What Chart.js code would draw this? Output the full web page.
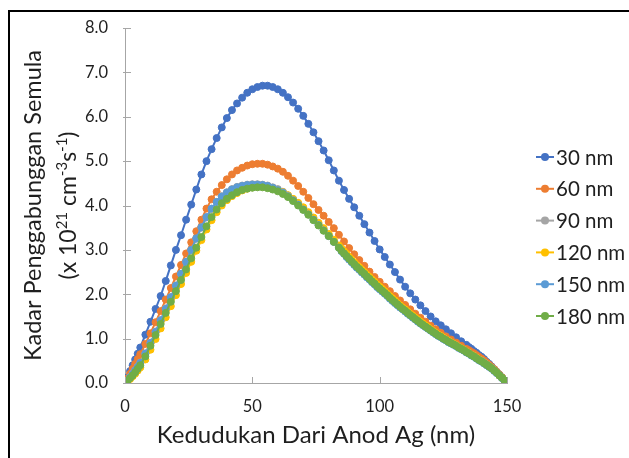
<!DOCTYPE html>
<html>
<head>
<meta charset="utf-8">
<script src="https://cdn.jsdelivr.net/npm/chart.js@4"></script>
<style>
  html, body { margin: 0; padding: 0; background: #fff; }
  canvas { display: block; }
</style>
</head>
<body>
<canvas id="c" width="629" height="458"></canvas>
<script>
// Position grid (nm) for the 30 nm and 60 nm runs
const xMain = [0,1,2,3,4,5,6,8,10,12,14,16,18,20,22,24,26,28,30,32,34,36,38,40,42,44,46,48,50,52,54,56,58,60,62,64,66,68,70,72,74,76,78,80,82,84,86,88,90,92,94,96,98,100,102,104,106,108,110,112,114,116,118,120,122,124,126,128,130,132,134,135,136,137,138,139,140,141,142,143,144,145,146,147,148,149,150];

// Position grid (nm) for the 90-180 nm runs (finer towards the cathode side)
const xFine = [0,1,2,3,4,5,6,8,10,12,14,16,18,20,22,24,26,28,30,32,34,36,38,40,42,44,46,48,50,52,54,56,58,60,62,64,66,68,70,72,74,76,78,80,82,84,85,86,87,88,89,90,91,92,93,94,95,96,97,98,99,100,101,102,103,104,105,106,107,108,109,110,111,112,113,114,115,116,117,118,119,120,121,122,123,124,125,126,127,128,129,130,131,132,133,134,135,136,137,138,139,140,141,142,143,144,145,146,147,148,149,150];

// Initial recombination rate (x 10^21 cm^-3 s^-1)
const y30 = [0,0.13,0.27,0.40,0.53,0.66,0.80,1.09,1.38,1.67,1.96,2.30,2.65,3.00,3.33,3.68,4.02,4.36,4.70,5.00,5.27,5.52,5.76,5.97,6.15,6.30,6.43,6.54,6.62,6.67,6.70,6.70,6.67,6.62,6.54,6.44,6.32,6.18,6.02,5.84,5.65,5.45,5.24,5.02,4.79,4.56,4.35,4.15,3.96,3.77,3.58,3.39,3.20,3.01,2.84,2.67,2.50,2.33,2.17,2.02,1.88,1.75,1.62,1.50,1.39,1.30,1.21,1.12,1.03,0.94,0.86,0.81,0.77,0.72,0.68,0.63,0.59,0.54,0.48,0.43,0.37,0.31,0.25,0.19,0.13,0.06,0];

const y60 = [0,0.10,0.21,0.32,0.43,0.54,0.65,0.88,1.12,1.37,1.62,1.88,2.14,2.40,2.66,2.92,3.17,3.42,3.68,3.93,4.14,4.31,4.46,4.59,4.70,4.79,4.85,4.90,4.93,4.94,4.94,4.92,4.88,4.83,4.76,4.67,4.56,4.44,4.31,4.17,4.03,3.90,3.77,3.63,3.49,3.34,3.19,3.04,2.90,2.77,2.64,2.51,2.39,2.28,2.17,2.07,1.96,1.86,1.76,1.66,1.56,1.47,1.38,1.29,1.21,1.13,1.05,0.98,0.91,0.84,0.77,0.74,0.70,0.67,0.63,0.59,0.55,0.51,0.46,0.41,0.36,0.31,0.25,0.19,0.13,0.06,0];

const y90 = [0,0.06,0.13,0.21,0.29,0.37,0.46,0.67,0.91,1.16,1.42,1.68,1.94,2.20,2.46,2.73,2.99,3.25,3.50,3.73,3.92,4.08,4.21,4.30,4.37,4.42,4.45,4.47,4.48,4.48,4.47,4.45,4.41,4.37,4.31,4.23,4.14,4.04,3.93,3.82,3.70,3.58,3.46,3.33,3.20,3.07,
  3.00,2.94,2.87,2.81,2.75,2.69,2.63,2.58,2.52,2.47,2.41,2.36,2.30,2.25,2.19,2.14,2.09,2.04,1.99,1.93,1.88,1.83,1.78,1.73,1.68,1.64,1.59,1.54,1.50,1.45,1.41,1.36,1.32,1.28,1.24,1.20,1.16,1.12,1.08,1.05,1.01,0.98,0.94,0.91,0.88,0.85,0.81,0.78,0.75,0.71,0.68,0.64,0.61,0.57,0.53,0.50,0.46,0.42,0.38,0.34,0.29,0.24,0.18,0.12,0.06,0];

const y120 = [0,0.04,0.09,0.15,0.21,0.28,0.35,0.53,0.75,0.99,1.23,1.48,1.73,1.98,2.23,2.48,2.73,2.98,3.22,3.46,3.67,3.85,4.00,4.12,4.21,4.28,4.34,4.38,4.41,4.43,4.43,4.42,4.39,4.35,4.30,4.23,4.15,4.06,3.96,3.85,3.73,3.61,3.49,3.36,3.23,3.10,
  3.03,2.97,2.91,2.84,2.78,2.72,2.66,2.61,2.55,2.50,2.44,2.39,2.33,2.28,2.22,2.17,2.12,2.07,2.01,1.96,1.91,1.86,1.80,1.75,1.70,1.66,1.61,1.56,1.52,1.47,1.43,1.38,1.34,1.30,1.26,1.21,1.17,1.13,1.09,1.06,1.02,0.98,0.95,0.91,0.88,0.85,0.81,0.78,0.75,0.71,0.68,0.64,0.61,0.57,0.53,0.49,0.45,0.41,0.37,0.33,0.28,0.23,0.17,0.12,0.06,0];

const y150 = [0,0.06,0.13,0.20,0.28,0.36,0.45,0.66,0.90,1.15,1.41,1.67,1.93,2.19,2.46,2.73,3.00,3.26,3.51,3.74,3.93,4.08,4.20,4.29,4.36,4.41,4.44,4.46,4.47,4.47,4.46,4.44,4.40,4.35,4.29,4.21,4.12,4.02,3.91,3.80,3.68,3.56,3.44,3.31,3.18,3.05,
  2.97,2.91,2.84,2.78,2.72,2.66,2.60,2.55,2.49,2.44,2.38,2.33,2.27,2.22,2.16,2.11,2.06,2.01,1.96,1.90,1.85,1.80,1.75,1.70,1.66,1.61,1.56,1.52,1.47,1.43,1.38,1.34,1.30,1.26,1.22,1.18,1.14,1.10,1.06,1.03,0.99,0.96,0.92,0.89,0.86,0.83,0.79,0.76,0.73,0.69,0.66,0.62,0.59,0.55,0.51,0.48,0.44,0.40,0.36,0.32,0.27,0.22,0.17,0.11,0.06,0];

const y180 = [0,0.05,0.11,0.17,0.24,0.32,0.40,0.60,0.84,1.08,1.33,1.58,1.83,2.07,2.32,2.56,2.81,3.05,3.29,3.53,3.74,3.91,4.05,4.15,4.23,4.30,4.35,4.38,4.40,4.41,4.41,4.39,4.36,4.32,4.26,4.19,4.10,4.00,3.90,3.79,3.67,3.55,3.43,3.31,3.18,3.05,
  2.98,2.92,2.86,2.80,2.74,2.68,2.62,2.57,2.51,2.46,2.40,2.35,2.29,2.24,2.18,2.13,2.08,2.03,1.98,1.92,1.87,1.82,1.77,1.72,1.67,1.63,1.58,1.53,1.49,1.44,1.40,1.35,1.31,1.27,1.23,1.19,1.15,1.11,1.07,1.04,1.00,0.97,0.93,0.90,0.87,0.84,0.80,0.77,0.74,0.70,0.67,0.63,0.60,0.56,0.52,0.49,0.45,0.41,0.37,0.33,0.28,0.23,0.17,0.12,0.06,0];

const seriesNames = ['30 nm', '60 nm', '90 nm', '120 nm', '150 nm', '180 nm'];
const seriesColors = ['#4472C4', '#ED7D31', '#A5A5A5', '#FFC000', '#5B9BD5', '#70AD47'];
const seriesX = [xMain, xMain, xFine, xFine, xFine, xFine];
const seriesY = [y30, y60, y90, y120, y150, y180];

const yTicks = [0, 1, 2, 3, 4, 5, 6, 7, 8];
const xTicks = [0, 50, 100, 150];

const FONT = 'Lato, "Open Sans", sans-serif';
const TEXT = '#1f1f1f';
const AXIS = '#a6a6a6';

const datasets = seriesNames.map((name, i) => ({
  label: name,
  data: seriesX[i].map((x, k) => ({ x: x, y: seriesY[i][k] })),
  showLine: true,
  borderColor: seriesColors[i],
  backgroundColor: seriesColors[i],
  borderWidth: 2,
  pointRadius: 3.5,
  pointBorderWidth: 1,
  pointBorderColor: seriesColors[i],
  pointBackgroundColor: seriesColors[i],
  tension: 0,
  // later series sit on top of earlier ones
  order: seriesNames.length - i
}));

const decorations = {
  id: 'decorations',
  beforeDraw(chart) {
    const c = chart.ctx;
    c.save();
    c.fillStyle = '#fff';
    c.fillRect(0, 0, chart.width, chart.height);
    c.restore();
  },
  afterDraw(chart) {
    const c = chart.ctx;
    const xs = chart.scales.x, ys = chart.scales.y;
    const area = chart.chartArea;
    c.save();

    // outer frame
    c.fillStyle = '#000';
    c.fillRect(8, 10, 2, chart.height - 10);
    c.fillRect(8, 10, chart.width - 8, 2);

    // inside tick marks
    c.strokeStyle = AXIS;
    c.lineWidth = 1;
    c.beginPath();
    yTicks.forEach(v => {
      const py = Math.round(ys.getPixelForValue(v)) + 0.5;
      c.moveTo(area.left - 2, py);
      c.lineTo(area.left + 6, py);
    });
    xTicks.forEach(v => {
      const px = Math.round(xs.getPixelForValue(v)) + 0.5;
      c.moveTo(px, area.bottom);
      c.lineTo(px, area.bottom - 6);
    });
    c.stroke();

    // y axis title, two lines with superscripts on the second
    const cy = (area.top + area.bottom) / 2;
    c.fillStyle = TEXT;
    c.textBaseline = 'alphabetic';
    c.save();
    c.translate(41, cy);
    c.rotate(-Math.PI / 2);
    c.font = '23.5px ' + FONT;
    c.textAlign = 'center';
    c.fillText('Kadar Penggabunggan Semula', 0, 0);
    c.restore();

    const parts = [
      ['(x 10', false], ['21', true], [' cm', false], ['-3', true],
      ['s', false], ['-1', true], [')', false]
    ];
    const normal = '23px ' + FONT, small = '15px ' + FONT;
    let total = 0;
    parts.forEach(p => { c.font = p[1] ? small : normal; total += c.measureText(p[0]).width; });
    c.save();
    c.translate(76, cy);
    c.rotate(-Math.PI / 2);
    c.textAlign = 'left';
    let pos = -total / 2;
    parts.forEach(p => {
      c.font = p[1] ? small : normal;
      c.fillText(p[0], pos, p[1] ? -9 : 0);
      pos += c.measureText(p[0]).width;
    });
    c.restore();

    // legend
    c.font = '20.5px ' + FONT;
    c.textAlign = 'left';
    c.textBaseline = 'middle';
    seriesNames.forEach((name, i) => {
      const ly = 157 + 31.8 * i;
      c.strokeStyle = seriesColors[i];
      c.lineWidth = 2;
      c.beginPath();
      c.moveTo(536, ly);
      c.lineTo(554, ly);
      c.stroke();
      c.fillStyle = seriesColors[i];
      c.beginPath();
      c.arc(545, ly, 4, 0, Math.PI * 2);
      c.fill();
      c.fillStyle = TEXT;
      c.fillText(name, 556, ly + 1);
    });
    c.restore();
  }
};

new Chart(document.getElementById('c'), {
  type: 'scatter',
  data: { datasets: datasets },
  options: {
    responsive: false,
    animation: false,
    events: [],
    layout: { padding: { top: 28, right: 122, left: 0, bottom: 0 } },
    scales: {
      x: {
        type: 'linear',
        min: 0,
        max: 150,
        afterBuildTicks(s) { s.ticks = xTicks.map(v => ({ value: v })); },
        ticks: { font: { family: FONT, size: 16.5 }, color: TEXT, padding: 14, maxRotation: 0 },
        grid: { display: false, drawTicks: false },
        border: { display: true, color: AXIS, width: 1 },
        title: {
          display: true,
          text: 'Kedudukan Dari Anod Ag (nm)',
          color: TEXT,
          font: { family: FONT, size: 24 },
          padding: { top: 0, bottom: 8 }
        },
        afterFit(s) { s.height = 75; }
      },
      y: {
        type: 'linear',
        min: 0,
        max: 8,
        afterBuildTicks(s) { s.ticks = yTicks.map(v => ({ value: v })); },
        ticks: {
          font: { family: FONT, size: 16.5 },
          color: TEXT,
          padding: 17,
          callback: v => Number(v).toFixed(1)
        },
        grid: { display: false, drawTicks: false },
        border: { display: true, color: AXIS, width: 1 },
        afterFit(s) { s.width = 125; }
      }
    },
    plugins: {
      legend: { display: false },
      tooltip: { enabled: false }
    }
  },
  plugins: [decorations]
});
</script>
</body>
</html>
